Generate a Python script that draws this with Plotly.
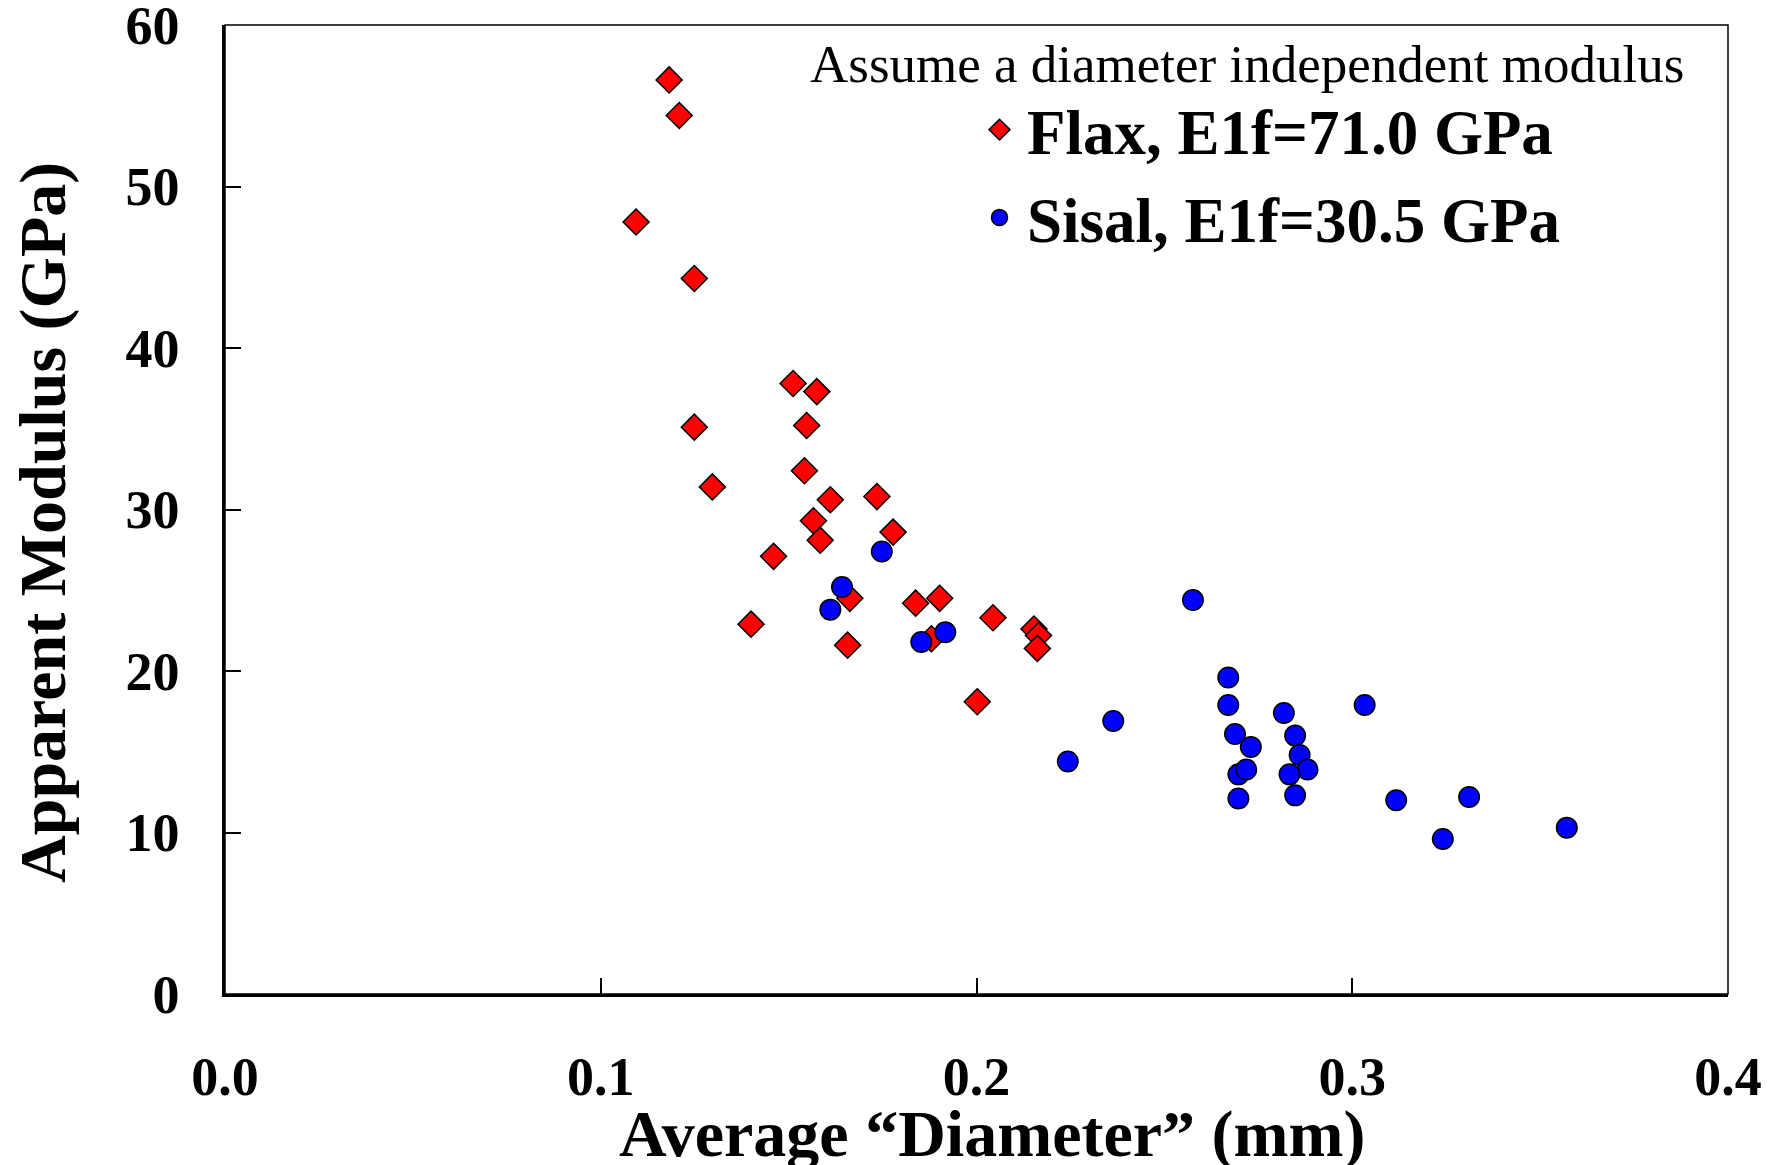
import plotly.graph_objects as go

# Flax (red diamonds)
flax_diameter = [0.1182, 0.1209, 0.1094, 0.1249, 0.1512, 0.1575, 0.1249, 0.1548, 0.1542,
                 0.1297, 0.1611, 0.1735, 0.1566, 0.1584, 0.1778, 0.1460, 0.1663, 0.1838,
                 0.1902, 0.1400, 0.1657, 0.2044, 0.2153, 0.2165, 0.2162, 0.2002, 0.1880]
flax_modulus = [56.6, 54.4, 47.8, 44.3, 37.8, 37.3, 35.1, 35.2, 32.4,
                31.4, 30.6, 30.8, 29.3, 28.1, 28.6, 27.1, 24.5, 24.2,
                24.5, 22.9, 21.6, 23.3, 22.6, 22.2, 21.4, 18.1, 22.0]

# Sisal (blue circles)
sisal_diameter = [0.1748, 0.1642, 0.1611, 0.1853, 0.1917, 0.2576, 0.2670, 0.2670, 0.2688,
                  0.2730, 0.2697, 0.2718, 0.2697, 0.2818, 0.2848, 0.2860, 0.2881, 0.2833,
                  0.2848, 0.3033, 0.2364, 0.2243, 0.3117, 0.3241, 0.3311, 0.3571]
sisal_modulus = [27.4, 25.2, 23.8, 21.8, 22.4, 24.4, 19.6, 17.9, 16.1,
                 15.3, 13.6, 13.9, 12.1, 17.4, 16.0, 14.8, 13.9, 13.6,
                 12.3, 17.9, 16.9, 14.4, 12.0, 9.6, 12.2, 10.3]

x_ticks = [0.0, 0.1, 0.2, 0.3, 0.4]
x_ticklabels = ["0.0", "0.1", "0.2", "0.3", "0.4"]
y_ticks = [0, 10, 20, 30, 40, 50, 60]
y_ticklabels = ["0", "10", "20", "30", "40", "50", "60"]

SERIF = "Liberation Serif, Times New Roman, serif"

fig = go.Figure()
fig.add_trace(go.Scatter(
    x=flax_diameter, y=flax_modulus, mode="markers", name="Flax, E1f=71.0 GPa",
    legendgroup="flax",
    marker=dict(symbol="diamond", size=20, color="#ff0000", line=dict(color="black", width=1.5)),
))
fig.add_trace(go.Scatter(
    x=sisal_diameter, y=sisal_modulus, mode="markers", name="Sisal, E1f=30.5 GPa",
    legendgroup="sisal",
    marker=dict(symbol="circle", size=20.5, color="#0000ff", line=dict(color="black", width=1.5)),
))

fig.update_layout(
    width=1781, height=1165,
    margin=dict(l=225, r=53, t=25, b=171, autoexpand=False),
    paper_bgcolor="white", plot_bgcolor="white",
    font=dict(family=SERIF, color="black"),
    showlegend=True,
    legend=dict(
        x=0.497, y=0.941, xanchor="left", yanchor="top",
        font=dict(family=SERIF, size=63, color="black", weight="bold"),
        bgcolor="rgba(0,0,0,0)", borderwidth=0,
        tracegroupgap=3, itemwidth=45,
    ),
    annotations=[
        dict(text="Assume a diameter independent modulus",
             xref="paper", yref="paper", x=0.6797, y=0.9597,
             xanchor="center", yanchor="middle", showarrow=False,
             font=dict(family=SERIF, size=53, color="black")),
        dict(text="<b>Apparent Modulus (GPa)</b>",
             xref="paper", yref="paper", x=-0.1211, y=0.4871, textangle=-90,
             xanchor="center", yanchor="middle", showarrow=False,
             font=dict(family=SERIF, size=66, color="black")),
        dict(text="<b>Average “Diameter” (mm)</b>",
             xref="paper", yref="paper", x=0.5103, y=-0.1445,
             xanchor="center", yanchor="middle", showarrow=False,
             font=dict(family=SERIF, size=66, color="black")),
    ],
    shapes=[dict(type="rect", xref="paper", yref="paper", x0=0, y0=0, x1=1, y1=1,
                 line=dict(color="black", width=1.5), layer="above")],
)

fig.update_xaxes(
    range=[0, 0.4], tickvals=x_ticks, ticktext=x_ticklabels,
    showgrid=False, zeroline=False, automargin=False,
    showline=True, linecolor="black", linewidth=2.5,
    ticks="inside", ticklen=16, tickwidth=1.5, tickcolor="black",
    ticklabelstandoff=33, ticklabeloverflow="allow",
    tickfont=dict(family=SERIF, size=54, color="black", weight="bold"),
)
fig.update_yaxes(
    range=[0, 60], tickvals=y_ticks, ticktext=y_ticklabels,
    showgrid=False, zeroline=False, automargin=False,
    showline=True, linecolor="black", linewidth=2.5,
    ticks="inside", ticklen=16, tickwidth=1.5, tickcolor="black",
    ticklabelstandoff=32, ticklabeloverflow="allow",
    tickfont=dict(family=SERIF, size=54, color="black", weight="bold"),
)

fig.write_html("out.html")
